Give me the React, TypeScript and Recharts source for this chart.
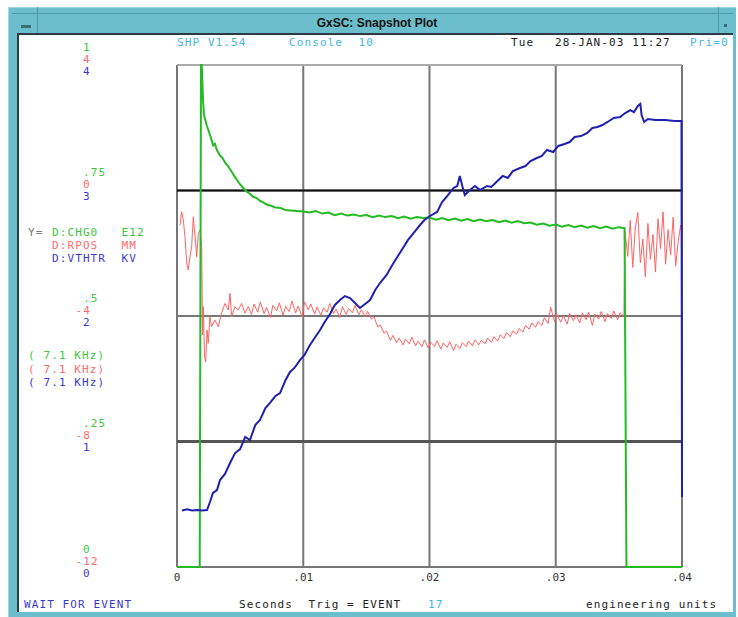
import { CartesianGrid, Line, LineChart, ReferenceLine, XAxis, YAxis } from "recharts"

const MONO = '"DejaVu Sans Mono", "Liberation Mono", monospace'

const TEAL = "#6cbecd"
const CYAN_TEXT = "#3fb6e3"
const GREEN_TEXT = "#3cc83c"
const RED_TEXT = "#ff6a6a"
const BLUE_TEXT = "#3a3acc"

const GREEN = "#22bb22"
const RED = "#ff6262"
const BLUE = "#2020b0"

// left-hand stacked scales, one label per series at each grid line
const chgTicks = [0, 0.25, 0.5, 0.75, 1]
const chgTickLabels = ["0", ".25", ".5", ".75", "1"]
const rposTickLabels = ["-12", "-8", "-4", "0", "4"]
const vthtrTickLabels = ["0", "1", "2", "3", "4"]

const timeTicks = [0, 0.01, 0.02, 0.03, 0.04]
const timeTickLabels = ["0", ".01", ".02", ".03", ".04"]

// D:CHG0 (E12) - [seconds, value]
const chgSamples: [number, number][] = [
    [0, 0], [0.0018, 0], [0.0019, 1.0], [0.00196, 1.0], [0.00206, 0.93], [0.00214, 0.9],
    [0.00235, 0.88], [0.0026, 0.862], [0.00287, 0.84], [0.003, 0.843], [0.00317, 0.83],
    [0.0034, 0.82], [0.0036, 0.815], [0.0038, 0.806], [0.004, 0.8], [0.0043, 0.789],
    [0.0045, 0.78], [0.00475, 0.771], [0.005, 0.762], [0.00525, 0.755], [0.0055, 0.748],
    [0.0058, 0.743], [0.006, 0.738], [0.0063, 0.735], [0.0066, 0.729], [0.0068, 0.727],
    [0.0071, 0.722], [0.0074, 0.72], [0.0078, 0.716], [0.0082, 0.715], [0.0086, 0.711],
    [0.009, 0.71], [0.0095, 0.709], [0.01, 0.708], [0.0105, 0.706], [0.011, 0.709],
    [0.0115, 0.704], [0.012, 0.706], [0.0125, 0.701], [0.013, 0.704], [0.0135, 0.7],
    [0.014, 0.702], [0.0145, 0.699], [0.015, 0.701], [0.0155, 0.697], [0.016, 0.7],
    [0.0165, 0.697], [0.017, 0.699], [0.0175, 0.695], [0.018, 0.698], [0.0185, 0.694],
    [0.019, 0.697], [0.0195, 0.695], [0.02, 0.696], [0.0205, 0.692], [0.021, 0.695],
    [0.0215, 0.691], [0.022, 0.694], [0.0225, 0.69], [0.023, 0.693], [0.0235, 0.689],
    [0.024, 0.692], [0.0245, 0.689], [0.025, 0.691], [0.0255, 0.687], [0.026, 0.69],
    [0.0265, 0.686], [0.027, 0.689], [0.0275, 0.685], [0.028, 0.686], [0.0285, 0.682],
    [0.029, 0.684], [0.0295, 0.68], [0.03, 0.682], [0.0305, 0.678], [0.031, 0.681],
    [0.0315, 0.677], [0.032, 0.68], [0.0325, 0.676], [0.033, 0.679], [0.0335, 0.675],
    [0.034, 0.678], [0.0345, 0.674], [0.035, 0.677], [0.03545, 0.675], [0.0356, 0],
    [0.04, 0],
]

// D:RPOS (MM)
const rposSamples: [number, number][] = [
    [0.00024, -1.1], [0.00037, -0.68], [0.0005, -0.94], [0.00063, -1.47], [0.00077, -2.31],
    [0.00089, -2.53], [0.00103, -2.11], [0.00116, -1.79], [0.00129, -0.84], [0.00143, -1.47],
    [0.00156, -2.11], [0.00169, -1.37], [0.00182, -1.26], [0.00196, -1.79], [0.00202, -4.6],
    [0.00208, -3.7], [0.00218, -5.3], [0.00227, -5.46], [0.00238, -4.45], [0.00248, -4.87],
    [0.00261, -4.02], [0.00274, -4.34], [0.003, -4.13], [0.00327, -4.34], [0.00353, -3.91],
    [0.0038, -3.6], [0.00406, -3.81], [0.0042, -3.28], [0.00433, -4.02], [0.00459, -3.7],
    [0.00485, -3.81], [0.00512, -3.6], [0.00538, -3.91], [0.00564, -3.7], [0.0059, -3.95],
    [0.0061, -3.62], [0.0064, -3.88], [0.0066, -3.55], [0.0069, -3.92], [0.0071, -3.72],
    [0.0074, -4.05], [0.0076, -3.66], [0.0079, -3.84], [0.0081, -3.58], [0.0084, -3.97],
    [0.0086, -3.7], [0.0089, -3.86], [0.0091, -3.52], [0.0094, -3.9], [0.0096, -3.68],
    [0.0099, -4.02], [0.0101, -3.55], [0.0104, -3.8], [0.0106, -3.62], [0.0109, -3.94],
    [0.0111, -3.71], [0.0114, -3.98], [0.0116, -3.74], [0.0119, -3.88], [0.0121, -3.6],
    [0.0124, -3.92], [0.0126, -3.78], [0.0129, -4.05], [0.0131, -3.7], [0.0134, -3.95],
    [0.0136, -3.76], [0.0139, -3.9], [0.0141, -3.66], [0.0144, -3.96], [0.0146, -3.8],
    [0.0149, -4.02], [0.0151, -3.85], [0.0154, -4.1], [0.0156, -4.02], [0.0159, -4.35],
    [0.0161, -4.28], [0.0164, -4.55], [0.0166, -4.48], [0.0169, -4.78], [0.0171, -4.62],
    [0.0174, -4.85], [0.0176, -4.7], [0.0179, -4.92], [0.0181, -4.74], [0.0184, -4.88],
    [0.0186, -4.68], [0.0189, -4.95], [0.0191, -4.8], [0.0194, -4.98], [0.0196, -4.76],
    [0.0199, -5.02], [0.0201, -4.84], [0.0204, -4.96], [0.0206, -4.79], [0.0209, -5.05],
    [0.0211, -4.86], [0.0214, -5.0], [0.0216, -4.82], [0.0219, -5.1], [0.0221, -4.9],
    [0.0224, -5.04], [0.0226, -4.85], [0.0229, -4.98], [0.0231, -4.8], [0.0234, -4.95],
    [0.0236, -4.76], [0.0239, -4.92], [0.0241, -4.78], [0.0244, -4.88], [0.0246, -4.7],
    [0.0249, -4.84], [0.0251, -4.66], [0.0254, -4.8], [0.0256, -4.6], [0.0259, -4.72],
    [0.0261, -4.52], [0.0264, -4.66], [0.0266, -4.48], [0.0269, -4.58], [0.0271, -4.4],
    [0.0274, -4.52], [0.0276, -4.3], [0.0279, -4.42], [0.0281, -4.22], [0.0284, -4.36],
    [0.0286, -4.18], [0.0289, -4.3], [0.0291, -4.05], [0.0294, -4.24], [0.0296, -3.72],
    [0.0299, -4.18], [0.0301, -3.95], [0.0304, -4.2], [0.0306, -3.98], [0.0309, -4.26],
    [0.0311, -3.92], [0.0314, -4.15], [0.0316, -3.96], [0.0319, -4.22], [0.0321, -3.9],
    [0.0324, -4.12], [0.0326, -3.88], [0.0329, -4.3], [0.0331, -3.94], [0.0334, -4.1],
    [0.0336, -3.86], [0.0339, -4.18], [0.0341, -3.92], [0.0344, -4.08], [0.0346, -3.84],
    [0.0349, -4.12], [0.0351, -3.9], [0.0354, -4.0], [0.03548, -1.3], [0.0357, -2.1],
    [0.0359, -0.95], [0.0361, -2.45], [0.0363, -1.2], [0.0365, -0.7], [0.0367, -2.3],
    [0.0369, -1.55], [0.0371, -2.75], [0.0373, -1.05], [0.0375, -2.2], [0.0377, -1.4],
    [0.0379, -2.6], [0.0381, -0.9], [0.0383, -1.85], [0.0385, -0.68], [0.0387, -2.35],
    [0.0389, -1.25], [0.0391, -2.05], [0.0393, -0.85], [0.0395, -2.4], [0.0397, -1.6],
    [0.0399, -1.1], [0.04, -1.45],
]

// D:VTHTR (KV)
const vthtrSamples: [number, number][] = [
    [0.0004, 0.45], [0.0008, 0.46], [0.0012, 0.45], [0.0016, 0.455], [0.002, 0.45],
    [0.00238, 0.454], [0.00261, 0.518], [0.00285, 0.59], [0.00317, 0.613], [0.00341, 0.693],
    [0.0038, 0.741], [0.0042, 0.829], [0.0046, 0.908], [0.005, 0.94], [0.0054, 1.036],
    [0.00578, 1.012], [0.0062, 1.131], [0.00657, 1.171], [0.007, 1.267], [0.00737, 1.307],
    [0.0078, 1.363], [0.00816, 1.386], [0.0086, 1.49], [0.00895, 1.554], [0.0093, 1.586],
    [0.00974, 1.649], [0.0101, 1.689], [0.01053, 1.769], [0.0109, 1.825], [0.01133, 1.888],
    [0.0117, 1.952], [0.01212, 2.016], [0.0125, 2.088], [0.01291, 2.127], [0.0133, 2.159],
    [0.0137, 2.143], [0.0141, 2.104], [0.01449, 2.064], [0.0149, 2.096], [0.01529, 2.127],
    [0.0157, 2.207], [0.01608, 2.263], [0.0166, 2.327], [0.0171, 2.414], [0.0175, 2.478],
    [0.0179, 2.542], [0.0183, 2.606], [0.0188, 2.669], [0.01925, 2.725], [0.0196, 2.765],
    [0.02004, 2.797], [0.0206, 2.829], [0.021, 2.908], [0.0214, 2.956], [0.0219, 3.02],
    [0.0222, 3.036], [0.0224, 3.116], [0.0226, 3.036], [0.0228, 2.964], [0.0232, 3.004],
    [0.0236, 3.036], [0.024, 3.004], [0.02455, 3.036], [0.0249, 3.028], [0.0253, 3.068],
    [0.0258, 3.116], [0.0262, 3.1], [0.0266, 3.155], [0.02717, 3.179], [0.0276, 3.195],
    [0.028, 3.235], [0.0285, 3.259], [0.0289, 3.275], [0.0293, 3.323], [0.0298, 3.307],
    [0.0302, 3.355], [0.0307, 3.371], [0.0311, 3.386], [0.0315, 3.426], [0.032, 3.434],
    [0.0325, 3.458], [0.0329, 3.498], [0.0333, 3.506], [0.0337, 3.522], [0.0341, 3.546],
    [0.0346, 3.578], [0.0351, 3.586], [0.0355, 3.617], [0.0359, 3.641], [0.0362, 3.625],
    [0.0365, 3.673], [0.0367, 3.689], [0.0368, 3.601], [0.037, 3.546], [0.0373, 3.57],
    [0.0379, 3.562], [0.0387, 3.562], [0.0394, 3.554], [0.03996, 3.554], [0.04, 0.558],
]

const toRows = (samples: [number, number][]) => samples.map(([t, v]) => ({ t, v }))

const chgData = toRows(chgSamples)
const rposData = toRows(rposSamples)
const vthtrData = toRows(vthtrSamples)

function StackedTick({ y, payload }: any) {
    const i = chgTicks.indexOf(payload.value)
    const rows = [
        { label: chgTickLabels[i], color: GREEN_TEXT, dy: -18 },
        { label: rposTickLabels[i], color: RED_TEXT, dy: -6 },
        { label: vthtrTickLabels[i], color: BLUE_TEXT, dy: 6 },
    ]
    return (
        <g>
            {rows.map((r, k) => (
                <text
                    key={k}
                    x={r.label.startsWith("-") ? 75.5 : 83}
                    y={y + r.dy}
                    dominantBaseline="central"
                    fill={r.color}
                    fontFamily={MONO}
                    fontSize={11}
                    letterSpacing={1.1}
                >
                    {r.label}
                </text>
            ))}
        </g>
    )
}

function Txt({ x, y, color = "#222", children }: { x: number; y: number; color?: string; children: string }) {
    return (
        <div
            style={{
                position: "absolute",
                left: x,
                top: y - 7,
                lineHeight: "14px",
                fontFamily: MONO,
                fontSize: 11,
                letterSpacing: 1.1,
                whiteSpace: "pre",
                color,
            }}
        >
            {children}
        </div>
    )
}

export default function App() {
    return (
        <div style={{ position: "absolute", left: 0, top: 0, width: 738, height: 617, background: "#fff", overflow: "hidden" }}>
            {/* window frame */}
            <div style={{ position: "absolute", left: 8, top: 7, width: 727, height: 610, background: TEAL, borderTop: "1px solid #9fd6e0", borderLeft: "1px solid #9fd6e0" }} />
            <div style={{ position: "absolute", left: 12, top: 13, width: 721, height: 1, background: "#4e9aa8" }} />
            <div style={{ position: "absolute", left: 37, top: 7, width: 1, height: 26, background: "#4e9aa8" }} />
            <div style={{ position: "absolute", left: 718, top: 7, width: 1, height: 26, background: "#4e9aa8" }} />
            <div style={{ position: "absolute", left: 21, top: 25, width: 10, height: 3, background: "#3b6f78" }} />
            <div style={{ position: "absolute", left: 724, top: 24, width: 3, height: 3, background: "#3b6f78" }} />
            <div
                style={{
                    position: "absolute",
                    left: 0,
                    width: 738,
                    top: 14,
                    textAlign: "center",
                    paddingLeft: 8,
                    fontFamily: '"Liberation Sans", Arial, sans-serif',
                    fontWeight: 700,
                    fontSize: 12,
                    lineHeight: "18px",
                    color: "#111",
                }}
            >
                GxSC: Snapshot Plot
            </div>
            <div style={{ position: "absolute", left: 17, top: 33, width: 716, height: 579, background: "#fff", borderTop: "2px solid #2c3c44", borderLeft: "2px solid #2c3c44", boxSizing: "border-box" }} />

            <LineChart
                width={738}
                height={617}
                style={{ position: "absolute", left: 0, top: 0 }}
                margin={{ top: 65, right: 56, bottom: 20, left: 17 }}
            >
                <CartesianGrid yAxisId="chg" stroke="#777" strokeWidth={2} />
                <XAxis
                    dataKey="t"
                    type="number"
                    domain={[0, 0.04]}
                    ticks={timeTicks}
                    tickFormatter={(v: number) => timeTickLabels[timeTicks.indexOf(v)]}
                    axisLine={false}
                    tickLine={false}
                    tickSize={0}
                    tickMargin={6}
                    height={30}
                    tick={{ fill: "#333", fontSize: 11, fontFamily: MONO }}
                    allowDuplicatedCategory={false}
                />
                <YAxis
                    yAxisId="chg"
                    domain={[0, 1]}
                    ticks={chgTicks}
                    width={160}
                    axisLine={false}
                    tickLine={false}
                    tick={<StackedTick />}
                />
                <YAxis yAxisId="rpos" domain={[-12, 4]} hide />
                <YAxis yAxisId="vthtr" domain={[0, 4]} hide />
                <ReferenceLine yAxisId="chg" y={0.75} stroke="#111" strokeWidth={2} />
                <ReferenceLine yAxisId="chg" y={0.25} stroke="#555" strokeWidth={3} />
                <ReferenceLine yAxisId="chg" y={1} stroke="#aaa" strokeWidth={2} />
                <Line
                    yAxisId="rpos"
                    data={rposData}
                    dataKey="v"
                    type="linear"
                    stroke={RED}
                    strokeWidth={1}
                    dot={false}
                    isAnimationActive={false}
                />
                <Line
                    yAxisId="chg"
                    data={chgData}
                    dataKey="v"
                    type="linear"
                    stroke={GREEN}
                    strokeWidth={2}
                    dot={false}
                    isAnimationActive={false}
                />
                <Line
                    yAxisId="vthtr"
                    data={vthtrData}
                    dataKey="v"
                    type="linear"
                    stroke={BLUE}
                    strokeWidth={2}
                    dot={false}
                    isAnimationActive={false}
                />
            </LineChart>

            {/* header */}
            <Txt x={177} y={43} color={CYAN_TEXT}>SHP V1.54</Txt>
            <Txt x={289} y={43} color={CYAN_TEXT}>Console  10</Txt>
            <Txt x={511} y={43}>Tue</Txt>
            <Txt x={555} y={43}>28-JAN-03 11:27</Txt>
            <Txt x={690} y={43} color={CYAN_TEXT}>Pri=0</Txt>

            {/* series legend */}
            <Txt x={28} y={233} color="#777">Y=</Txt>
            <Txt x={52} y={233} color={GREEN_TEXT}>D:CHG0   E12</Txt>
            <Txt x={52} y={246} color={RED_TEXT}>D:RPOS   MM</Txt>
            <Txt x={52} y={259} color={BLUE_TEXT}>D:VTHTR  KV</Txt>

            <Txt x={28} y={356} color={GREEN_TEXT}>( 7.1 KHz)</Txt>
            <Txt x={28} y={370} color={RED_TEXT}>( 7.1 KHz)</Txt>
            <Txt x={28} y={383} color={BLUE_TEXT}>( 7.1 KHz)</Txt>

            {/* footer */}
            <Txt x={24} y={605} color={BLUE_TEXT}>WAIT FOR EVENT</Txt>
            <Txt x={239} y={605}>Seconds  Trig = EVENT</Txt>
            <Txt x={428} y={605} color={CYAN_TEXT}>17</Txt>
            <Txt x={586} y={605}>engineering units</Txt>
        </div>
    )
}
